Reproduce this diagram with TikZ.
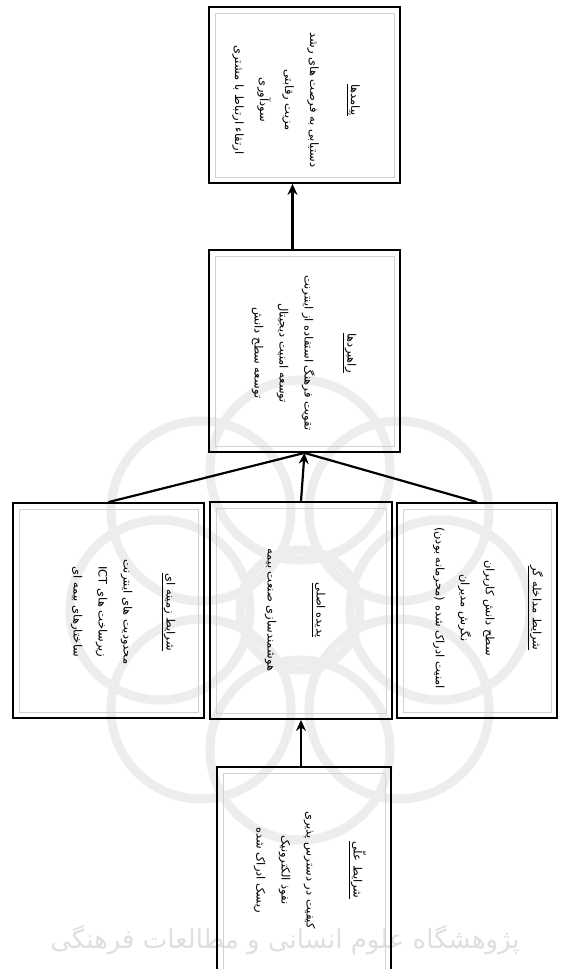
\documentclass[tikz,border=0pt]{standalone}
\usepackage{fontspec}
\newfontfamily\arabicfont[Script=Arabic]{DejaVu Sans}
\TeXXeTstate=1
\usetikzlibrary{arrows.meta}
\newcommand{\rtltext}[1]{\beginR #1\endR}
\newcommand{\ttl}[1]{\underline{\hbox{\beginR #1\endR}}}
\tikzset{
  box/.style={draw=black, line width=1.8pt, rectangle, inner sep=0pt},
  innerframe/.style={draw=gray!35, line width=0.5pt},
  txt/.style={rotate=-90, align=center, inner sep=0pt, font=\arabicfont\fontsize{11.5}{25}\selectfont},
  conn/.style={line width=2.2pt, draw=black},
  arr/.style={conn, -{Stealth[length=11pt, width=10pt]}},
  wm/.style={draw=gray!14, line width=9pt},
}
\begin{document}
\begin{tikzpicture}[x=1pt, y=-1pt]
\useasboundingbox (0,0) rectangle (562,969);
\clip (0,0) rectangle (562,969);
\fill[white] (0,0) rectangle (562,969);
% watermark
\foreach \a in {0,45,...,315} {
  \draw[wm] (300,610) ++(\a:140pt) circle[radius=90pt];
}
\draw[wm] (300,610) circle[radius=60pt];
\node[text=gray!25, font=\arabicfont\fontsize{26}{30}\selectfont] (wmtext) at (285,940) {\rtltext{پژوهشگاه علوم انسانی و مطالعات فرهنگی}};
% boxes
\node[box, minimum width=191pt, minimum height=176pt] (b1) at (304.5,95) {};
\node[box, minimum width=191pt, minimum height=202pt] (b2) at (304.5,351) {};
\node[box, minimum width=191pt, minimum height=215pt] (bl) at (108.5,610.5) {};
\node[box, minimum width=182pt, minimum height=217pt] (bm) at (301,610.5) {};
\node[box, minimum width=160pt, minimum height=215pt] (br) at (477,610.5) {};
\node[box, minimum width=174pt, minimum height=223pt] (bb) at (304,878.5) {};
\foreach \n in {b1,b2,bl,bm,br,bb} {
  \draw[innerframe] ([shift={(7pt,-7pt)}]\n.north west) rectangle ([shift={(-7pt,7pt)}]\n.south east);
}
% texts
\node[txt] (t1) at (296,100) {\ttl{پیامدها}\\[16pt]
  \rtltext{دستیابی به فرصت های رشد}\\
  \rtltext{مزیت رقابتی}\\
  \rtltext{سودآوری}\\
  \rtltext{ارتقاء ارتباط با مشتری}};
\node[txt] (t2) at (304,353) {\ttl{راهبردها}\\[18pt]
  \rtltext{تقویت فرهنگ استفاده از اینترنت}\\
  \rtltext{توسعه امنیت دیجیتال}\\
  \rtltext{توسعه سطح دانش}};
\node[txt] (tl) at (123,612) {\ttl{شرایط زمینه ای}\\[18pt]
  \rtltext{محدودیت های اینترنت}\\
  \rtltext{زیرساخت های \beginL ICT\endL}\\
  \rtltext{ساختارهای بیمه ای}};
\node[txt] (tm) at (295,610) {\ttl{پدیده اصلی}\\[24pt]
  \rtltext{هوشمندسازی صنعت بیمه}};
\node[txt] (tr) at (488,608) {\ttl{شرایط مداخله گر}\\[22pt]
  \rtltext{سطح دانش کاربران}\\
  \rtltext{نگرش مدیران}\\
  \rtltext{امنیت ادراک شده (محرمانه بودن)}};
\node[txt] (tb) at (310,870) {\ttl{شرایط علّی}\\[22pt]
  \rtltext{کیفیت در دسترس پذیری}\\
  \rtltext{نفوذ الکترونیک}\\
  \rtltext{ریسک ادراک شده}};
% connectors
\draw[arr] ([xshift=-12pt]b2.north) -- ([xshift=-12pt]b1.south);
\draw[conn] (bl.north) -- (b2.south);
\draw[conn] (br.north) -- (b2.south);
\draw[arr] (bm.north) -- (b2.south);
\draw[arr] (bm.south |- bb.north) -- (bm.south);
\end{tikzpicture}
\end{document}
